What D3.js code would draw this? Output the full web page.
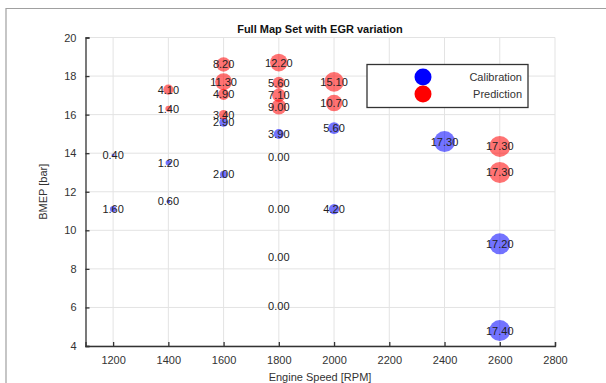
<!DOCTYPE html>
<html>
<head>
<meta charset="utf-8">
<script src="https://cdn.jsdelivr.net/npm/d3@7"></script>
<style>
  body { margin: 0; background: #fff; }
  text { font-family: "Liberation Sans", Arial, sans-serif; }
</style>
</head>
<body>
<svg width="606" height="383"></svg>
<script>
// calibration points (rpm, bmep, egr label)
var calRpm  = [1200, 1200, 1400, 1400, 1600, 1600, 1800, 1800, 1800, 1800, 1800, 2000, 2000, 2400, 2600, 2600];
var calBmep = [13.9, 11.1, 13.5, 11.5, 12.9, 15.6, 15.0, 13.8, 11.1, 8.6, 6.1, 15.3, 11.1, 14.6, 9.3, 4.8];
var calEgr  = [0.40, 1.60, 1.20, 0.60, 2.00, 2.90, 3.90, 0.00, 0.00, 0.00, 0.00, 5.60, 4.20, 17.30, 17.20, 17.40];

// prediction points
var predRpm  = [1400, 1400, 1600, 1600, 1600, 1600, 1800, 1800, 1800, 1800, 2000, 2000, 2600, 2600];
var predBmep = [17.3, 16.3, 18.6, 17.7, 17.05, 16.0, 18.7, 17.65, 17.0, 16.4, 17.7, 16.6, 14.35, 13.0];
var predEgr  = [4.10, 1.40, 8.20, 11.30, 4.90, 3.40, 12.20, 5.60, 7.10, 9.00, 15.10, 10.70, 17.30, 17.30];

var xTicks = [1200, 1400, 1600, 1800, 2000, 2200, 2400, 2600, 2800];
var yTicks = [4, 6, 8, 10, 12, 14, 16, 18, 20];

var svg = d3.select("svg");

// figure frame
svg.append("path")
    .attr("d", "M6,383V8.5H606")
    .attr("fill", "none")
    .attr("stroke", "#a0a0a0")
    .attr("stroke-width", 1.2);

var x = d3.scaleLinear().domain([1100, 2800]).range([85.5, 555]);
var y = d3.scaleLinear().domain([4, 20]).range([346, 37.5]);
var r = d3.scaleSqrt().domain([0, 17.3]).range([0, 10.5]);

// grid
var grid = svg.append("g").attr("stroke", "#e3e3e3").attr("stroke-width", 1);
grid.selectAll(".gx").data(xTicks).enter().append("line")
    .attr("x1", function(d) { return x(d); }).attr("x2", function(d) { return x(d); })
    .attr("y1", y(4)).attr("y2", y(20));
grid.selectAll(".gy").data(yTicks).enter().append("line")
    .attr("x1", x(1100)).attr("x2", x(2800))
    .attr("y1", function(d) { return y(d); }).attr("y2", function(d) { return y(d); });

// axes
var xAxis = svg.append("g")
    .attr("transform", "translate(0," + y(4) + ")")
    .call(d3.axisBottom(x).tickValues(xTicks).tickFormat(d3.format("d"))
        .tickSizeInner(-4).tickSizeOuter(-4).tickPadding(10));
var yAxis = svg.append("g")
    .attr("transform", "translate(" + x(1100) + ",0)")
    .call(d3.axisLeft(y).tickValues(yTicks).tickFormat(d3.format("d"))
        .tickSizeInner(-4).tickSizeOuter(-4).tickPadding(9));
[xAxis, yAxis].forEach(function(a) {
    a.selectAll("path, line").attr("stroke", "#333").attr("stroke-width", 1.3);
    a.selectAll("text").attr("fill", "#333").style("font-size", "11px");
});

// bubbles
function drawSeries(rpm, bmep, egr, color) {
    var data = rpm.map(function(d, i) { return [d, bmep[i], egr[i]]; });
    var g = svg.append("g");
    g.selectAll("circle").data(data).enter().append("circle")
        .attr("cx", function(d) { return x(d[0]); })
        .attr("cy", function(d) { return y(d[1]); })
        .attr("r", function(d) { return r(d[2]); })
        .attr("fill", color)
        .attr("fill-opacity", 0.55);
    g.selectAll("text").data(data).enter().append("text")
        .attr("x", function(d) { return x(d[0]); })
        .attr("y", function(d) { return y(d[1]) + 4; })
        .attr("text-anchor", "middle")
        .attr("fill", "#222")
        .style("font-size", "11px")
        .text(function(d) { return d[2].toFixed(2); });
}
drawSeries(calRpm, calBmep, calEgr, "#0000ff");
drawSeries(predRpm, predBmep, predEgr, "#ff0000");

// title and labels
svg.append("text")
    .attr("x", 320).attr("y", 33)
    .attr("text-anchor", "middle")
    .style("font-size", "11px").style("font-weight", "bold")
    .attr("fill", "#111")
    .text("Full Map Set with EGR variation");
svg.append("text")
    .attr("x", 320).attr("y", 381)
    .attr("text-anchor", "middle")
    .style("font-size", "11px").attr("fill", "#333")
    .text("Engine Speed [RPM]");
svg.append("text")
    .attr("transform", "translate(47," + y(12) + ") rotate(-90)")
    .attr("text-anchor", "middle")
    .style("font-size", "11px").attr("fill", "#333")
    .text("BMEP [bar]");

// legend
var legend = svg.append("g");
legend.append("rect")
    .attr("x", 367).attr("y", 64.5).attr("width", 161).attr("height", 43)
    .attr("fill", "#fff").attr("stroke", "#333").attr("stroke-width", 1.3);
[["Calibration", "#0000ff", 77], ["Prediction", "#ff0000", 94]].forEach(function(d) {
    legend.append("circle").attr("cx", 423).attr("cy", d[2]).attr("r", 8.5).attr("fill", d[1]);
    legend.append("text").attr("x", 522).attr("y", d[2] + 4)
        .attr("text-anchor", "end")
        .style("font-size", "11px").attr("fill", "#333")
        .text(d[0]);
});
</script>
</body>
</html>
